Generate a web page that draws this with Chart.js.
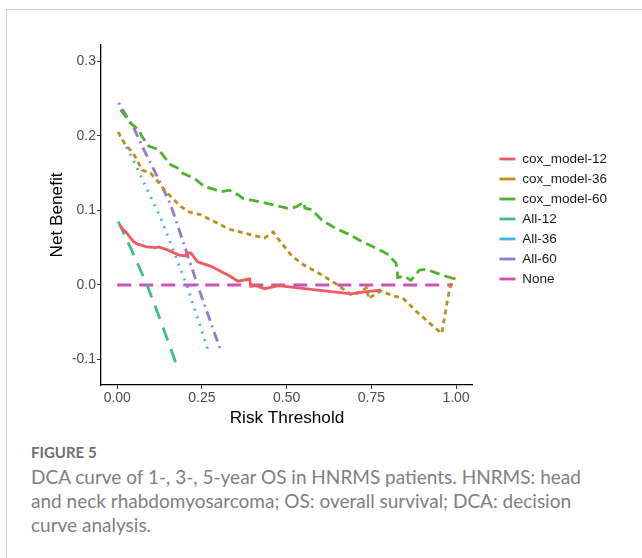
<!DOCTYPE html>
<html>
<head>
<meta charset="utf-8">
<style>
    body { margin: 0; background: #fff; width: 642px; height: 558px; overflow: hidden; position: relative; }
    .frame { position: absolute; left: 6px; top: 9px; width: 700px; height: 600px; border: 1px solid #cfcfcf; }
    #dca { position: absolute; left: 0; top: 0; }
    .caption { position: absolute; left: 31px; top: 443px; width: 575px; font-family: Lato, "Open Sans", sans-serif; color: #808080; }
    .caption .fig { font-size: 15px; font-weight: 700; color: #6f6f6f; line-height: 18px; }
    .caption .txt { font-size: 19px; line-height: 24px; margin-top: 4px; }
</style>
</head>
<body>
<div class="frame"></div>
<canvas id="dca" width="642" height="440"></canvas>
<div class="caption">
    <div class="fig">FIGURE 5</div>
    <div class="txt">DCA curve of 1-, 3-, 5-year OS in HNRMS patients. HNRMS: head and neck rhabdomyosarcoma; OS: overall survival; DCA: decision curve analysis.</div>
</div>

<script src="https://cdn.jsdelivr.net/npm/chart.js"></script>

<script>
    // values
    const seriesNames = ['cox_model-12', 'cox_model-36', 'cox_model-60', 'All-12', 'All-36', 'All-60', 'None'];

    const cox12X = [0.008, 0.017, 0.024, 0.034, 0.048, 0.058, 0.088, 0.113, 0.123, 0.148, 0.182, 0.202, 0.205, 0.217, 0.237, 0.277, 0.336, 0.356, 0.391, 0.394, 0.41, 0.435, 0.475, 0.69, 0.718, 0.778];
    const cox12Y = [0.080, 0.074, 0.072, 0.066, 0.058, 0.055, 0.051, 0.050, 0.051, 0.047, 0.040, 0.039, 0.043, 0.043, 0.031, 0.025, 0.011, 0.005, 0.008, -0.002, -0.001, -0.005, -0.001, -0.012, -0.010, -0.007];

    const cox36X = [0.003, 0.009, 0.024, 0.044, 0.058, 0.073, 0.098, 0.123, 0.138, 0.163, 0.188, 0.212, 0.247, 0.286, 0.316, 0.336, 0.396, 0.435, 0.46, 0.478, 0.515, 0.55, 0.594, 0.644, 0.693, 0.718, 0.738, 0.741, 0.778, 0.817, 0.842, 0.882, 0.932, 0.958, 0.966, 0.981, 0.991, 0.998];
    const cox36Y = [0.205, 0.199, 0.188, 0.178, 0.168, 0.154, 0.150, 0.137, 0.128, 0.116, 0.105, 0.098, 0.094, 0.085, 0.078, 0.074, 0.067, 0.063, 0.071, 0.060, 0.039, 0.027, 0.016, 0.002, -0.014, -0.009, -0.003, -0.018, -0.008, -0.015, -0.017, -0.035, -0.055, -0.065, -0.043, -0.005, 0.007, 0.010];

    const cox60X = [0.01, 0.039, 0.063, 0.073, 0.093, 0.123, 0.138, 0.158, 0.177, 0.192, 0.227, 0.257, 0.286, 0.307, 0.331, 0.356, 0.371, 0.435, 0.51, 0.53, 0.55, 0.554, 0.574, 0.604, 0.644, 0.688, 0.723, 0.783, 0.802, 0.823, 0.826, 0.828, 0.847, 0.867, 0.892, 0.912, 0.961, 0.996];
    const cox60Y = [0.235, 0.217, 0.208, 0.199, 0.186, 0.181, 0.172, 0.161, 0.157, 0.150, 0.143, 0.132, 0.128, 0.125, 0.127, 0.121, 0.116, 0.110, 0.102, 0.105, 0.111, 0.103, 0.101, 0.087, 0.076, 0.067, 0.058, 0.045, 0.040, 0.029, 0.022, 0.010, 0.012, 0.006, 0.020, 0.021, 0.013, 0.008];

    const all12X = [0.003, 0.039, 0.088, 0.128, 0.175];
    const all12Y = [0.085, 0.050, 0.000, -0.048, -0.107];

    const all36X = [0.004, 0.049, 0.088, 0.128, 0.205, 0.272];
    const all36Y = [0.204, 0.166, 0.128, 0.090, 0.000, -0.093];

    const all60X = [0.004, 0.049, 0.083, 0.123, 0.158, 0.237, 0.307];
    const all60Y = [0.244, 0.210, 0.177, 0.141, 0.107, 0.000, -0.090];

    const noneX = [0.0, 0.99];
    const noneY = [0.0, 0.0];

    const xTicks = [0, 0.25, 0.5, 0.75, 1.0];
    const yTicks = [-0.1, 0, 0.1, 0.2, 0.3];

    const colors = ['#EF5A61', '#B8901E', '#4DB22D', '#3BBE8C', '#3BB6E8', '#8A7DCF', '#D24DBB'];
    const dashes = [[], [5, 4], [10, 5], [14, 9], [2, 6], [2, 5, 10, 5], [14, 8]];

    const xs = [cox12X, cox36X, cox60X, all12X, all36X, all60X, noneX];
    const ys = [cox12Y, cox36Y, cox60Y, all12Y, all36Y, all60Y, noneY];

    const datasets = seriesNames.map((name, i) => ({
        label: name,
        data: xs[i].map((x, j) => ({ x: x, y: ys[i][j] })),
        borderColor: colors[i],
        backgroundColor: colors[i],
        borderWidth: 2.8,
        borderDash: dashes[i],
        pointRadius: 0,
        tension: 0,
        fill: false
    }));

    const tickFont = { family: '"Liberation Sans", Arial, sans-serif', size: 14 };
    const legendFont = { family: '"Liberation Sans", Arial, sans-serif', size: 13.5 };
    const titleFont = { family: '"Liberation Sans", Arial, sans-serif', size: 17.2 };

    // push the legend a bit right of the panel, like ggplot's legend margin
    const legendShift = {
        id: 'legendShift',
        afterLayout(chart) {
            const lg = chart.legend;
            lg.left += 20;
            lg.right += 20;
            lg.top += 4;
            lg.bottom += 4;
        }
    };

    new Chart(document.getElementById('dca').getContext('2d'), {
        type: 'line',
        data: { datasets: datasets },
        plugins: [legendShift],
        options: {
            responsive: false,
            animation: false,
            layout: { padding: { left: 40, top: 45, bottom: 9, right: 45 } },
            plugins: {
                legend: {
                    position: 'right',
                    fullSize: false,
                    labels: {
                        usePointStyle: true,
                        pointStyle: 'line',
                        pointStyleWidth: 16,
                        padding: 6.5,
                        color: '#1a1a1a',
                        font: legendFont
                    }
                },
                tooltip: { enabled: false }
            },
            scales: {
                x: {
                    type: 'linear',
                    min: -0.048,
                    max: 1.05,
                    afterBuildTicks: s => { s.ticks = xTicks.map(v => ({ value: v })); },
                    afterFit: s => { s.height = 46; },
                    ticks: { callback: v => v.toFixed(2), color: '#4d4d4d', font: tickFont, padding: 1, maxRotation: 0 },
                    grid: { drawOnChartArea: false, drawTicks: true, tickLength: 4, color: '#333' },
                    border: { display: true, color: '#000', width: 1.3 },
                    title: { display: true, text: 'Risk Threshold', color: '#000', font: titleFont, padding: { top: 0, bottom: 2 } }
                },
                y: {
                    min: -0.134,
                    max: 0.3215,
                    afterBuildTicks: s => { s.ticks = yTicks.map(v => ({ value: v })); },
                    afterFit: s => { s.width = 61; },
                    ticks: { callback: v => v.toFixed(1), color: '#4d4d4d', font: tickFont, padding: 1 },
                    grid: { drawOnChartArea: false, drawTicks: true, tickLength: 4, color: '#333' },
                    border: { display: true, color: '#000', width: 1.3 },
                    title: { display: true, text: 'Net Benefit', color: '#000', font: titleFont, padding: { top: 7, bottom: 0 } }
                }
            }
        }
    });
</script>
</body>
</html>
